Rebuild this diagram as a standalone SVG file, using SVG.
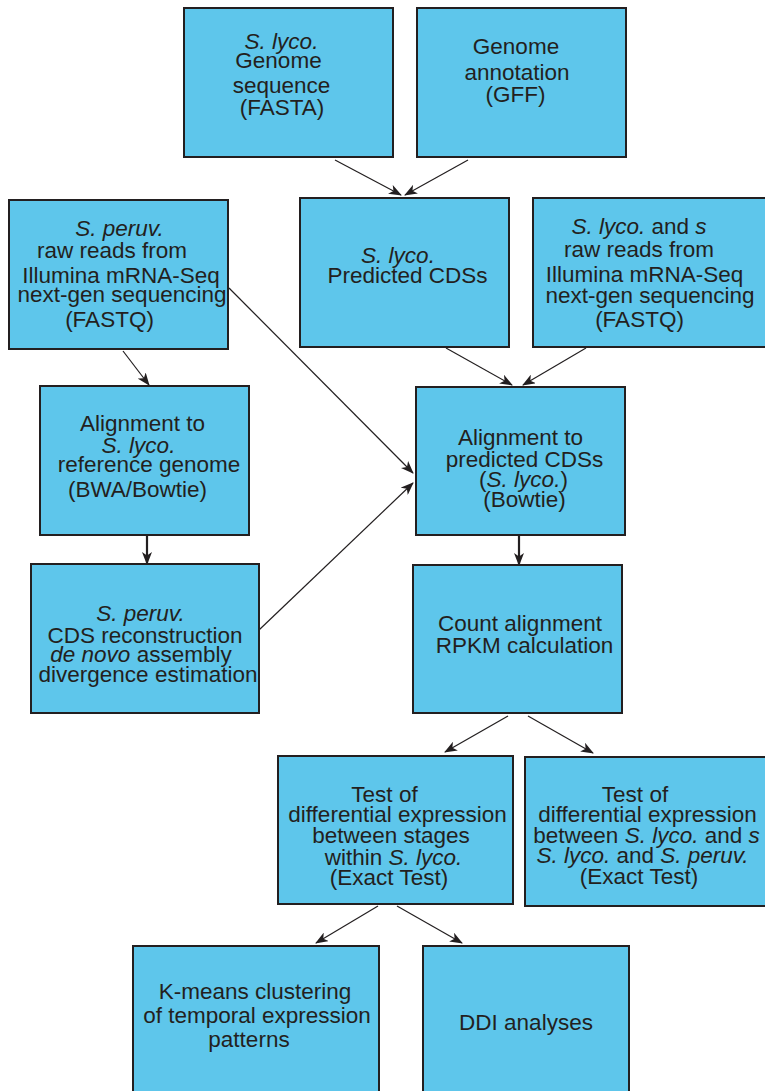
<svg xmlns="http://www.w3.org/2000/svg" width="765" height="1091" viewBox="0 0 765 1091">
  <defs>
    <style>
      .box { fill: #5ec6eb; stroke: #231f20; stroke-width: 2; }
      .lbl { font-family: "Liberation Sans", Arial, sans-serif; font-size: 22.5px; fill: #231f20; text-anchor: middle; }
      .it { font-style: italic; }
      .link { stroke: #231f20; stroke-width: 1.2; fill: none; marker-end: url(#head); }
      .link.bold { stroke-width: 2.2; }
    </style>
    <marker id="head" viewBox="0 0 13 10" refX="12" refY="5" markerWidth="13" markerHeight="10" markerUnits="userSpaceOnUse" orient="auto">
      <path d="M0,0 L13,5 L0,10 L3.5,5 z" fill="#231f20"/>
    </marker>
  </defs>

  <rect width="765" height="1091" fill="#ffffff"/>

  <!-- connectors -->
  <g id="connectors">
    <line class="link" x1="335" y1="160" x2="401" y2="195"/>
    <line class="link" x1="468" y1="160" x2="405" y2="195"/>
    <line class="link" x1="123" y1="351" x2="149" y2="385"/>
    <line class="link" x1="229" y1="288" x2="413" y2="473"/>
    <line class="link" x1="446" y1="348" x2="512" y2="385"/>
    <line class="link" x1="586" y1="348" x2="523" y2="385"/>
    <line class="link bold" x1="147" y1="536" x2="147" y2="564"/>
    <line class="link" x1="259" y1="630" x2="413" y2="483"/>
    <line class="link bold" x1="519" y1="536" x2="519" y2="565"/>
    <line class="link" x1="508" y1="716" x2="445" y2="752"/>
    <line class="link" x1="528" y1="716" x2="593" y2="753"/>
    <line class="link" x1="378" y1="906" x2="316" y2="943"/>
    <line class="link" x1="397" y1="906" x2="462" y2="943"/>
  </g>

  <g id="genome-sequence">
    <rect class="box" x="184" y="8" width="209" height="149"/>
    <text class="lbl it" x="281.5" y="49">S. lyco.</text>
    <text class="lbl" x="278.5" y="68">Genome</text>
    <text class="lbl" x="281.5" y="93">sequence</text>
    <text class="lbl" x="282" y="115">(FASTA)</text>
  </g>

  <g id="genome-annotation">
    <rect class="box" x="417" y="8" width="209" height="149"/>
    <text class="lbl" x="516" y="54">Genome</text>
    <text class="lbl" x="517" y="80">annotation</text>
    <text class="lbl" x="515.5" y="102">(GFF)</text>
  </g>

  <g id="peruv-reads">
    <rect class="box" x="9" y="200" width="219" height="149"/>
    <text class="lbl it" x="119.5" y="236">S. peruv.</text>
    <text class="lbl" x="112" y="258">raw reads from</text>
    <text class="lbl" x="121" y="283">Illumina mRNA-Seq</text>
    <text class="lbl" x="122" y="302">next-gen sequencing</text>
    <text class="lbl" x="109.5" y="327">(FASTQ)</text>
  </g>

  <g id="predicted-cds">
    <rect class="box" x="300" y="198" width="209" height="149"/>
    <text class="lbl it" x="398" y="263">S. lyco.</text>
    <text class="lbl" x="407.5" y="283">Predicted CDSs</text>
  </g>

  <g id="lyco-reads">
    <rect class="box" x="533" y="198" width="240" height="149"/>
    <text class="lbl" x="639" y="234"><tspan class="it">S. lyco.</tspan> and <tspan class="it">s</tspan></text>
    <text class="lbl" x="639" y="257">raw reads from</text>
    <text class="lbl" x="644.5" y="282">Illumina mRNA-Seq</text>
    <text class="lbl" x="650" y="303">next-gen sequencing</text>
    <text class="lbl" x="639.5" y="327">(FASTQ)</text>
  </g>

  <g id="align-genome">
    <rect class="box" x="40" y="386" width="209" height="149"/>
    <text class="lbl" x="142.5" y="431">Alignment to</text>
    <text class="lbl it" x="138.5" y="453">S. lyco.</text>
    <text class="lbl" x="149" y="472">reference genome</text>
    <text class="lbl" x="137.5" y="497">(BWA/Bowtie)</text>
  </g>

  <g id="cds-reconstruction">
    <rect class="box" x="31" y="564" width="228" height="149"/>
    <text class="lbl it" x="140.5" y="621">S. peruv.</text>
    <text class="lbl" x="145" y="643">CDS reconstruction</text>
    <text class="lbl" x="141" y="662"><tspan class="it">de novo</tspan> assembly</text>
    <text class="lbl" x="148" y="682">divergence estimation</text>
  </g>

  <g id="align-cds">
    <rect class="box" x="416" y="387" width="209" height="148"/>
    <text class="lbl" x="520.5" y="445">Alignment to</text>
    <text class="lbl" x="524.5" y="467">predicted CDSs</text>
    <text class="lbl" x="523.5" y="487">(<tspan class="it">S. lyco.</tspan>)</text>
    <text class="lbl" x="524.5" y="507">(Bowtie)</text>
  </g>

  <g id="count-rpkm">
    <rect class="box" x="413" y="565" width="209" height="148"/>
    <text class="lbl" x="520" y="631">Count alignment</text>
    <text class="lbl" x="524.5" y="653">RPKM calculation</text>
  </g>

  <g id="test-stages">
    <rect class="box" x="278" y="756" width="235" height="148"/>
    <text class="lbl" x="384.5" y="802">Test of</text>
    <text class="lbl" x="397.5" y="822">differential expression</text>
    <text class="lbl" x="391" y="843">between stages</text>
    <text class="lbl" x="393.5" y="865">within <tspan class="it">S. lyco.</tspan></text>
    <text class="lbl" x="389" y="885">(Exact Test)</text>
  </g>

  <g id="test-species">
    <rect class="box" x="525" y="757" width="250" height="149"/>
    <text class="lbl" x="635" y="802">Test of</text>
    <text class="lbl" x="647.5" y="822">differential expression</text>
    <text class="lbl" x="646.5" y="843">between <tspan class="it">S. lyco.</tspan> and <tspan class="it">s</tspan></text>
    <text class="lbl" x="642.5" y="863"><tspan class="it">S. lyco.</tspan> and <tspan class="it">S. peruv.</tspan></text>
    <text class="lbl" x="639" y="884">(Exact Test)</text>
  </g>

  <g id="kmeans">
    <rect class="box" x="133" y="946" width="246" height="160"/>
    <text class="lbl" x="255" y="999">K-means clustering</text>
    <text class="lbl" x="257" y="1023">of temporal expression</text>
    <text class="lbl" x="249" y="1047">patterns</text>
  </g>

  <g id="ddi">
    <rect class="box" x="423" y="946" width="206" height="160"/>
    <text class="lbl" x="526" y="1030">DDI analyses</text>
  </g>
</svg>
